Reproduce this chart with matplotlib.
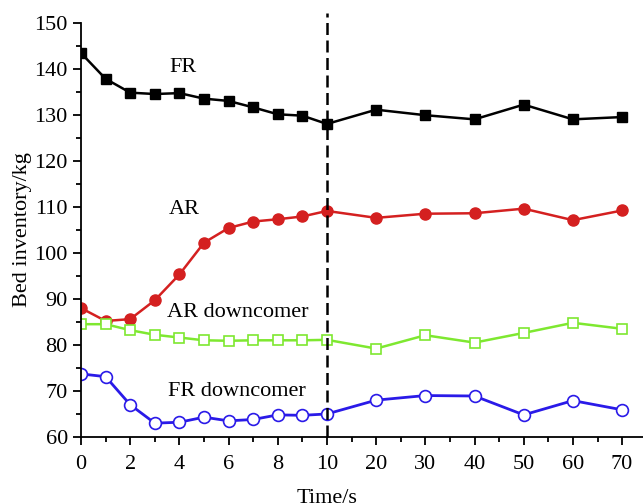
import numpy as np
import matplotlib
matplotlib.use("Agg")
import matplotlib.pyplot as plt
from matplotlib.ticker import FixedLocator

plt.rcParams['font.family'] = ['Liberation Serif', 'DejaVu Serif']

time = [0, 1, 2, 3, 4, 5, 6, 7, 8, 9, 10, 20, 30, 40, 50, 60, 70]
fr = [143.4, 137.8, 134.8, 134.5, 134.7, 133.5, 133.0, 131.6, 130.1, 129.8, 128.0,
      131.1, 129.9, 129.0, 132.2, 129.0, 129.5]
ar = [88.0, 85.2, 85.6, 89.7, 95.3, 102.2, 105.4, 106.8, 107.3, 107.9, 109.1,
      107.6, 108.5, 108.6, 109.6, 107.1, 109.2]
ar_down = [84.5, 84.5, 83.2, 82.2, 81.6, 81.0, 80.9, 81.0, 81.0, 81.0, 81.1,
           79.2, 82.1, 80.5, 82.6, 84.8, 83.5]
fr_down = [73.7, 73.1, 67.0, 63.0, 63.2, 64.3, 63.5, 63.8, 64.8, 64.7, 65.0,
           68.0, 69.0, 68.9, 64.8, 67.9, 65.9]

major_ticks = [0, 2, 4, 6, 8, 10, 20, 30, 40, 50, 60, 70]
minor_ticks = [1, 3, 5, 7, 9, 15, 25, 35, 45, 55, 65]


def pos(t):
    # 0-10 s on a stretched scale, after that 10 s per 2 units
    t = np.asarray(t, dtype=float)
    return np.where(t <= 10, t, 10 + (t - 10) / 5)


fig = plt.figure(figsize=(6.43, 5.04), dpi=100)
ax = fig.add_axes([0.126, 0.133, 0.874, 0.822])

x = pos(time)
ax.plot(x, fr, color='black', lw=1.8, marker='s', ms=7, mfc='black', mec='black')
ax.plot(x, ar, color='#d42020', lw=1.8, marker='o', ms=8, mfc='#d42020', mec='#d42020')
ax.plot(x, ar_down, color='#7ee830', lw=1.8, marker='s', ms=7.5, mfc='white', mec='#7ee830', mew=1.2)
ax.plot(x, fr_down, color='#2a1ae8', lw=2.0, marker='o', ms=8.5, mfc='white', mec='#2a1ae8', mew=1.2)

ax.plot([pos(10), pos(10)], [60, 152], color='black', lw=1.8, ls=(0, (4.8, 2.2)),
        clip_on=False, zorder=5)

ax.set_xlim(0, 22.85)
ax.set_ylim(60, 150)
ax.xaxis.set_major_locator(FixedLocator(pos(major_ticks)))
ax.xaxis.set_minor_locator(FixedLocator(pos(minor_ticks)))
ax.set_xticklabels([str(t) for t in major_ticks])
ax.set_yticks(np.arange(60, 151, 10))
ax.set_yticks(np.arange(65, 150, 10), minor=True)

for s in ['top', 'right']:
    ax.spines[s].set_visible(False)
ax.spines['left'].set_linewidth(1.3)
ax.spines['bottom'].set_linewidth(1.3)
ax.tick_params(which='major', direction='out', length=6, width=1.3, labelsize=16)
ax.tick_params(axis='x', which='major', pad=7)
ax.tick_params(which='minor', direction='out', length=3.5, width=1.3)

ax.set_ylabel('Bed inventory/kg', fontsize=16, labelpad=2)
ax.set_xlabel('Time/s', fontsize=16)
ax.xaxis.set_label_coords(pos(10) / 22.85, -0.125)

ax.text(4.15, 140.2, 'FR', fontsize=16, ha='center', va='center')
ax.text(4.2, 109.4, 'AR', fontsize=16, ha='center', va='center')
ax.text(6.38, 87.0, 'AR downcomer', fontsize=16, ha='center', va='center')
ax.text(6.34, 69.9, 'FR downcomer', fontsize=16, ha='center', va='center')

fig.savefig('out.png', dpi=100)
